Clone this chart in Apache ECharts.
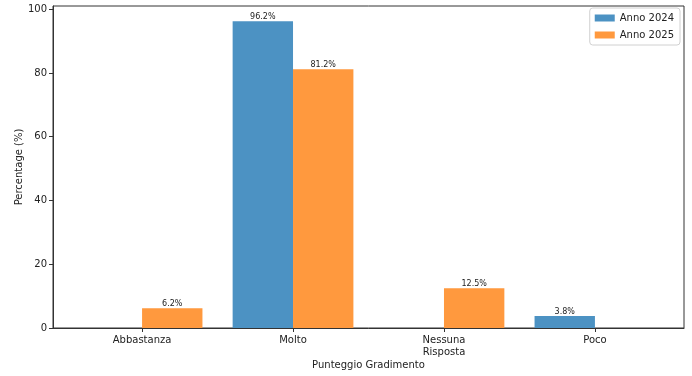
<!DOCTYPE html>
<html>
<head>
<meta charset="utf-8">
<script src="https://cdn.jsdelivr.net/npm/echarts@6/dist/echarts.min.js"></script>
<style>html,body{margin:0;padding:0;background:#fff;}#c{width:692px;height:376px;}</style>
</head>
<body>
<div id="c"></div>
<script>
const categories = ['Abbastanza', 'Molto', 'Nessuna\nRisposta', 'Poco'];
const values2024 = [0, 96.2, 0, 3.8];
const values2025 = [6.2, 81.2, 12.5, 0];
const yTicks = [0, 20, 40, 60, 80, 100];
const seriesNames = ['Anno 2024', 'Anno 2025'];

const FONT = 'DejaVu Sans';
const chart = echarts.init(document.getElementById('c'), null, {renderer: 'canvas'});
const catPos = categories.map((_, i) => i);
function mk(vals) { return vals.map((v, i) => [i, v]); }
const lbl = {
  show: true, position: 'top', distance: 0, fontSize: 8, color: '#222', fontFamily: FONT,
  formatter: p => p.value[1] > 0 ? p.value[1].toFixed(1) + '%' : ''
};
chart.setOption({
  animation: false,
  textStyle: {fontFamily: FONT},
  grid: {left: 53, right: 8, top: 6, bottom: 48, show: true, borderColor: '#333', borderWidth: 1,
         containLabel: false, outerBoundsMode: 'none'},
  legend: {
    right: 12, top: 8, orient: 'vertical',
    itemWidth: 20, itemHeight: 7, itemGap: 7,
    padding: [5, 6, 5, 5],
    borderColor: '#d0d0d0', borderWidth: 1, borderRadius: 3,
    textStyle: {fontSize: 10, color: '#222', fontFamily: FONT},
    icon: 'rect',
    data: seriesNames
  },
  xAxis: {
    type: 'value', min: -0.59, max: 3.59,
    name: 'Punteggio Gradimento', nameLocation: 'middle', nameGap: 32, nameMoveOverlap: false,
    nameTextStyle: {fontSize: 10, color: '#222', fontFamily: FONT},
    axisLine: {show: true, onZero: false, lineStyle: {color: '#333'}},
    axisTick: {show: true, inside: false, length: 4, lineStyle: {color: '#333'}, customValues: catPos},
    axisLabel: {fontSize: 10, color: '#222', margin: 6, lineHeight: 12, fontFamily: FONT,
      customValues: catPos, formatter: v => categories[Math.round(v)] || ''},
    splitLine: {show: false}
  },
  yAxis: {
    type: 'value', min: 0, max: 101.01,
    name: 'Percentage (%)', nameLocation: 'middle', nameGap: 29, nameRotate: 90, nameMoveOverlap: false,
    nameTextStyle: {fontSize: 10, color: '#222', fontFamily: FONT},
    axisLine: {show: true, onZero: false, lineStyle: {color: '#333'}},
    axisTick: {show: true, inside: false, length: 4, lineStyle: {color: '#333'}, customValues: yTicks},
    axisLabel: {fontSize: 10, color: '#222', margin: 6, fontFamily: FONT, customValues: yTicks},
    splitLine: {show: false}
  },
  series: [
    {name: seriesNames[0], type: 'bar', data: mk(values2024), barWidth: '40%', barGap: '0%',
     itemStyle: {color: '#4c92c3'}, label: lbl},
    {name: seriesNames[1], type: 'bar', data: mk(values2025), barWidth: '40%', barGap: '0%',
     itemStyle: {color: '#ff993e'}, label: lbl}
  ]
});
</script>
</body>
</html>
